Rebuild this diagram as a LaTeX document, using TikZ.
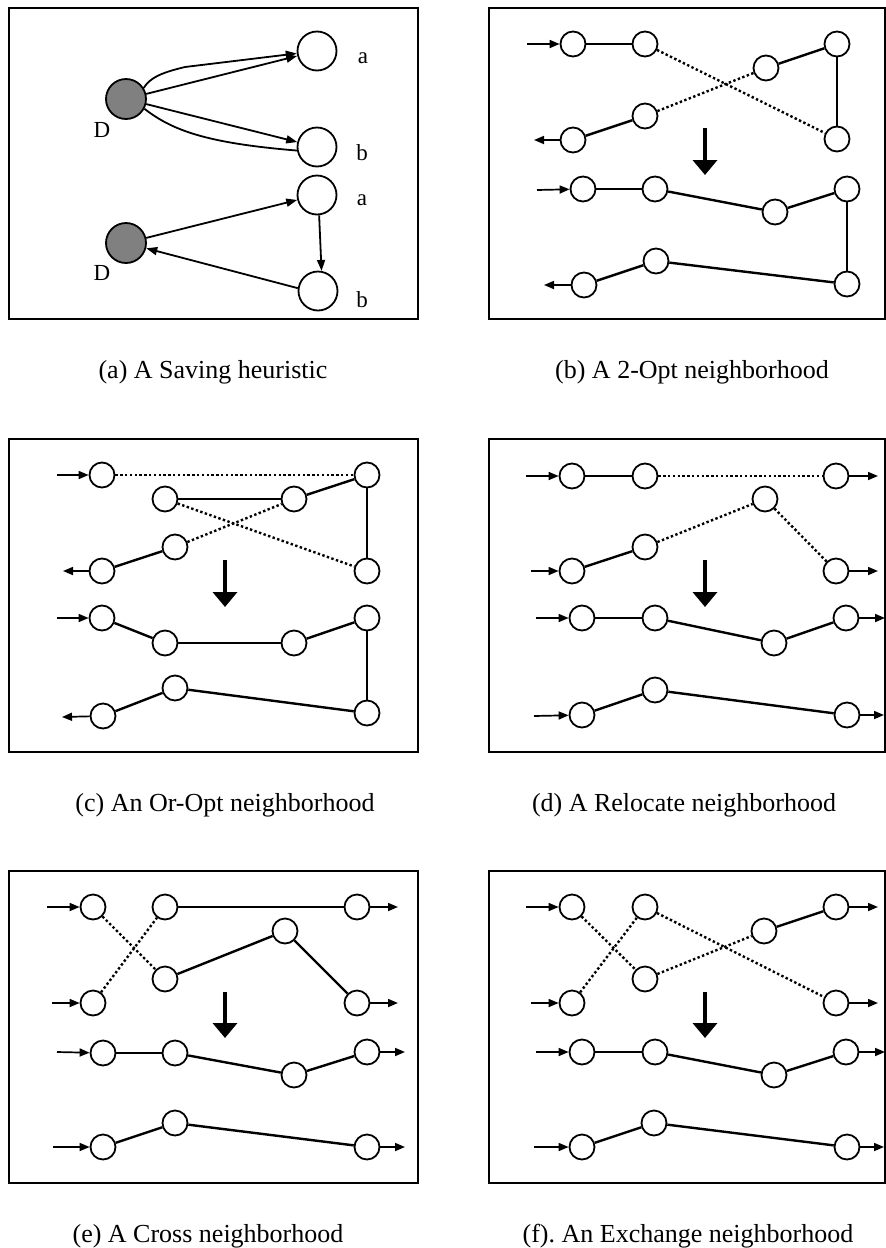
\documentclass[tikz,border=0pt]{standalone}
\usepackage{fontspec}
\setmainfont{Liberation Serif}
\usetikzlibrary{arrows.meta}
\frenchspacing
\tikzset{
  nd/.style={circle,draw,line width=1.8pt,minimum size=25pt,inner sep=0pt,fill=white},
  bignd/.style={circle,draw,line width=1.8pt,minimum size=39pt,inner sep=0pt,fill=white},
  depot/.style={circle,draw,line width=1.8pt,minimum size=40pt,inner sep=0pt,fill=black!50},
  sol/.style={line width=2.4pt},
  dots/.style={line width=2.4pt,dash pattern=on 2.4pt off 2.4pt},
  flow/.style={line width=1.7pt,-{Triangle[length=10pt,width=8pt]}},
  sav/.style={line width=1.8pt,-{Triangle[length=11pt,width=8pt]}},
  bigdown/.style={line width=3.6pt,-{Triangle[length=15pt,width=24pt]}},
  frame/.style={draw,line width=1.6pt},
  captxt/.style={anchor=base,inner sep=0pt,font=\fontsize{26}{30}\selectfont},
  lbl/.style={inner sep=0pt,font=\fontsize{23}{26}\selectfont}
}
\begin{document}
\begin{tikzpicture}[x=1pt,y=-1pt]
\useasboundingbox (0,0) rectangle (886,1248);
\fill[white] (0,0) rectangle (886,1248);
% frames
\draw[frame] (9,8) rectangle (418,319);
\draw[frame] (489,8) rectangle (885,319);
\draw[frame] (9,439) rectangle (418,752);
\draw[frame] (489,439) rectangle (885,752);
\draw[frame] (9,871) rectangle (418,1183);
\draw[frame] (489,871) rectangle (885,1183);
% captions
\node[captxt] (capa) at (213,378) {(a) A Saving heuristic};
\node[captxt] (capb) at (692,378) {(b) A 2-Opt neighborhood};
\node[captxt] (capc) at (225,811) {(c) An Or-Opt neighborhood};
\node[captxt] (capd) at (684,811) {(d) A Relocate neighborhood};
\node[captxt] (cape) at (208,1242) {(e) A Cross neighborhood};
\node[captxt] (capf) at (688,1242) {(f). An Exchange neighborhood};

% ---------------- (a) ----------------
\node[depot] (D1) at (126,99) {};
\node[bignd] (a1) at (317,51) {};
\node[bignd] (b1) at (317,147) {};
\node[bignd] (a2) at (317,195) {};
\node[depot] (D2) at (126,243) {};
\node[bignd] (b2) at (318,291) {};
\node[lbl] (la1) at (363,58) {a};
\node[lbl] (lb1) at (362,153) {b};
\node[lbl] (la2) at (362,200) {a};
\node[lbl] (lb2) at (362,300) {b};
\node[lbl] (lD1) at (102,130) {D};
\node[lbl] (lD2) at (102,273) {D};
\draw[sav] (D1) -- (a1);
\draw[sav] (D1.32) .. controls (150,78) and (160,73) .. (185,67) -- (a1);
\draw[sav] (D1) -- (b1);
\draw[line width=1.8pt] (D1.-28) .. controls (172,130) and (205,143) .. (b1.190);
\draw[sav] (D2) -- (a2);
\draw[sav] (a2.-84) -- (b2.80);
\draw[sav] (b2.172) -- (D2);

% ---------------- (b) ----------------
\node[nd] (bt1) at (573,44) {};
\node[nd] (bt2) at (645,44) {};
\node[nd] (bt3) at (766,68) {};
\node[nd] (bt4) at (837,44) {};
\node[nd] (bt5) at (837,139) {};
\node[nd] (bt6) at (645,116) {};
\node[nd] (bt7) at (573,140) {};
\coordinate (bti) at (527,44);
\coordinate (bto) at (534,140);
\draw[flow] (bti) -- (bt1);
\draw[sol] (bt1) -- (bt2);
\draw[dots] (bt2) -- (bt5);
\draw[dots] (bt6) -- (bt3);
\draw[sol] (bt3) -- (bt4);
\draw[sol] (bt4) -- (bt5);
\draw[sol] (bt7) -- (bt6);
\draw[flow] (bt7) -- (bto);
\coordinate (bd1) at (705,128);
\coordinate (bd2) at (705,175);
\draw[bigdown] (bd1) -- (bd2);
\node[nd] (bb1) at (583,189) {};
\node[nd] (bb2) at (655,189) {};
\node[nd] (bb3) at (775,212) {};
\node[nd] (bb4) at (847,189) {};
\node[nd] (bb5) at (847,284) {};
\node[nd] (bb6) at (656,261) {};
\node[nd] (bb7) at (584,285) {};
\coordinate (bbi) at (537,190);
\coordinate (bbo) at (544,285);
\draw[flow] (bbi) -- (bb1);
\draw[sol] (bb1) -- (bb2);
\draw[sol] (bb2) -- (bb3);
\draw[sol] (bb3) -- (bb4);
\draw[sol] (bb4) -- (bb5);
\draw[sol] (bb5) -- (bb6);
\draw[sol] (bb6) -- (bb7);
\draw[flow] (bb7) -- (bbo);

% ---------------- (c) ----------------
\node[nd] (ct1) at (102,475) {};
\node[nd] (ct2) at (165,499) {};
\node[nd] (ct3) at (294,499) {};
\node[nd] (ct4) at (367,475) {};
\node[nd] (ct5) at (367,571) {};
\node[nd] (ct6) at (175,547) {};
\node[nd] (ct7) at (102,571) {};
\coordinate (cti) at (57,475);
\coordinate (cto) at (63,571);
\draw[flow] (cti) -- (ct1);
\draw[dots] (ct1) -- (ct4);
\draw[sol] (ct2) -- (ct3);
\draw[sol] (ct3) -- (ct4);
\draw[sol] (ct4) -- (ct5);
\draw[dots] (ct2) -- (ct5);
\draw[dots] (ct6) -- (ct3);
\draw[sol] (ct7) -- (ct6);
\draw[flow] (ct7) -- (cto);
\coordinate (cd1) at (225,560);
\coordinate (cd2) at (225,607);
\draw[bigdown] (cd1) -- (cd2);
\node[nd] (cb1) at (102,618) {};
\node[nd] (cb2) at (165,643) {};
\node[nd] (cb3) at (294,643) {};
\node[nd] (cb4) at (367,618) {};
\node[nd] (cb5) at (367,713) {};
\node[nd] (cb6) at (175,688) {};
\node[nd] (cb7) at (103,716) {};
\coordinate (cbi) at (57,618);
\coordinate (cbo) at (62,717);
\draw[flow] (cbi) -- (cb1);
\draw[sol] (cb1) -- (cb2);
\draw[sol] (cb2) -- (cb3);
\draw[sol] (cb3) -- (cb4);
\draw[sol] (cb4) -- (cb5);
\draw[sol] (cb5) -- (cb6);
\draw[sol] (cb6) -- (cb7);
\draw[flow] (cb7) -- (cbo);

% ---------------- (d) ----------------
\node[nd] (dt1) at (572,476) {};
\node[nd] (dt2) at (645,476) {};
\node[nd] (dt3) at (836,476) {};
\node[nd] (dt4) at (765,499) {};
\node[nd] (dt5) at (645,547) {};
\node[nd] (dt6) at (572,571) {};
\node[nd] (dt7) at (836,571) {};
\coordinate (dti1) at (526,476);
\coordinate (dti2) at (531,571);
\coordinate (dto1) at (878,476);
\coordinate (dto2) at (878,571);
\draw[flow] (dti1) -- (dt1);
\draw[flow] (dti2) -- (dt6);
\draw[sol] (dt1) -- (dt2);
\draw[dots] (dt2) -- (dt3);
\draw[sol] (dt6) -- (dt5);
\draw[dots] (dt5) -- (dt4);
\draw[dots] (dt4) -- (dt7);
\draw[flow] (dt3) -- (dto1);
\draw[flow] (dt7) -- (dto2);
\coordinate (dd1) at (705,560);
\coordinate (dd2) at (705,607);
\draw[bigdown] (dd1) -- (dd2);
\node[nd] (db1) at (582,618) {};
\node[nd] (db2) at (655,618) {};
\node[nd] (db3) at (774,643) {};
\node[nd] (db4) at (846,618) {};
\node[nd] (db5) at (655,690) {};
\node[nd] (db6) at (582,715) {};
\node[nd] (db7) at (847,715) {};
\coordinate (dbi1) at (536,618);
\coordinate (dbi2) at (534,716);
\coordinate (dbo1) at (885,618);
\coordinate (dbo2) at (884,715);
\draw[flow] (dbi1) -- (db1);
\draw[flow] (dbi2) -- (db6);
\draw[sol] (db1) -- (db2);
\draw[sol] (db2) -- (db3);
\draw[sol] (db3) -- (db4);
\draw[sol] (db6) -- (db5);
\draw[sol] (db5) -- (db7);
\draw[flow] (db4) -- (dbo1);
\draw[flow] (db7) -- (dbo2);

% ---------------- (e) ----------------
\node[nd] (et1) at (93,907) {};
\node[nd] (et2) at (165,907) {};
\node[nd] (et3) at (357,907) {};
\node[nd] (et4) at (285,931) {};
\node[nd] (et5) at (165,979) {};
\node[nd] (et6) at (93,1003) {};
\node[nd] (et7) at (357,1003) {};
\coordinate (eti1) at (47,907);
\coordinate (eti2) at (52,1003);
\coordinate (eto1) at (398,907);
\coordinate (eto2) at (398,1003);
\draw[flow] (eti1) -- (et1);
\draw[flow] (eti2) -- (et6);
\draw[dots] (et1) -- (et5);
\draw[dots] (et6) -- (et2);
\draw[sol] (et2) -- (et3);
\draw[sol] (et5) -- (et4);
\draw[sol] (et4) -- (et7);
\draw[flow] (et3) -- (eto1);
\draw[flow] (et7) -- (eto2);
\coordinate (ed1) at (225,992);
\coordinate (ed2) at (225,1038);
\draw[bigdown] (ed1) -- (ed2);
\node[nd] (eb1) at (103,1053) {};
\node[nd] (eb2) at (175,1053) {};
\node[nd] (eb3) at (294,1075) {};
\node[nd] (eb4) at (367,1052) {};
\node[nd] (eb5) at (175,1123) {};
\node[nd] (eb6) at (103,1147) {};
\node[nd] (eb7) at (367,1147) {};
\coordinate (ebi1) at (57,1052);
\coordinate (ebi2) at (53,1147);
\coordinate (ebo1) at (405,1052);
\coordinate (ebo2) at (405,1147);
\draw[flow] (ebi1) -- (eb1);
\draw[flow] (ebi2) -- (eb6);
\draw[sol] (eb1) -- (eb2);
\draw[sol] (eb2) -- (eb3);
\draw[sol] (eb3) -- (eb4);
\draw[sol] (eb6) -- (eb5);
\draw[sol] (eb5) -- (eb7);
\draw[flow] (eb4) -- (ebo1);
\draw[flow] (eb7) -- (ebo2);

% ---------------- (f) ----------------
\node[nd] (ft1) at (572,907) {};
\node[nd] (ft2) at (645,907) {};
\node[nd] (ft3) at (836,907) {};
\node[nd] (ft4) at (764,931) {};
\node[nd] (ft5) at (645,979) {};
\node[nd] (ft6) at (572,1003) {};
\node[nd] (ft7) at (836,1003) {};
\coordinate (fti1) at (526,907);
\coordinate (fti2) at (531,1003);
\coordinate (fto1) at (878,907);
\coordinate (fto2) at (878,1003);
\draw[flow] (fti1) -- (ft1);
\draw[flow] (fti2) -- (ft6);
\draw[dots] (ft1) -- (ft5);
\draw[dots] (ft6) -- (ft2);
\draw[dots] (ft2) -- (ft7);
\draw[dots] (ft5) -- (ft4);
\draw[sol] (ft4) -- (ft3);
\draw[flow] (ft3) -- (fto1);
\draw[flow] (ft7) -- (fto2);
\coordinate (fd1) at (705,992);
\coordinate (fd2) at (705,1038);
\draw[bigdown] (fd1) -- (fd2);
\node[nd] (fb1) at (582,1052) {};
\node[nd] (fb2) at (655,1052) {};
\node[nd] (fb3) at (774,1075) {};
\node[nd] (fb4) at (846,1052) {};
\node[nd] (fb5) at (654,1123) {};
\node[nd] (fb6) at (582,1147) {};
\node[nd] (fb7) at (847,1147) {};
\coordinate (fbi1) at (536,1052);
\coordinate (fbi2) at (534,1147);
\coordinate (fbo1) at (885,1052);
\coordinate (fbo2) at (884,1147);
\draw[flow] (fbi1) -- (fb1);
\draw[flow] (fbi2) -- (fb6);
\draw[sol] (fb1) -- (fb2);
\draw[sol] (fb2) -- (fb3);
\draw[sol] (fb3) -- (fb4);
\draw[sol] (fb6) -- (fb5);
\draw[sol] (fb5) -- (fb7);
\draw[flow] (fb4) -- (fbo1);
\draw[flow] (fb7) -- (fbo2);
\end{tikzpicture}
\end{document}
